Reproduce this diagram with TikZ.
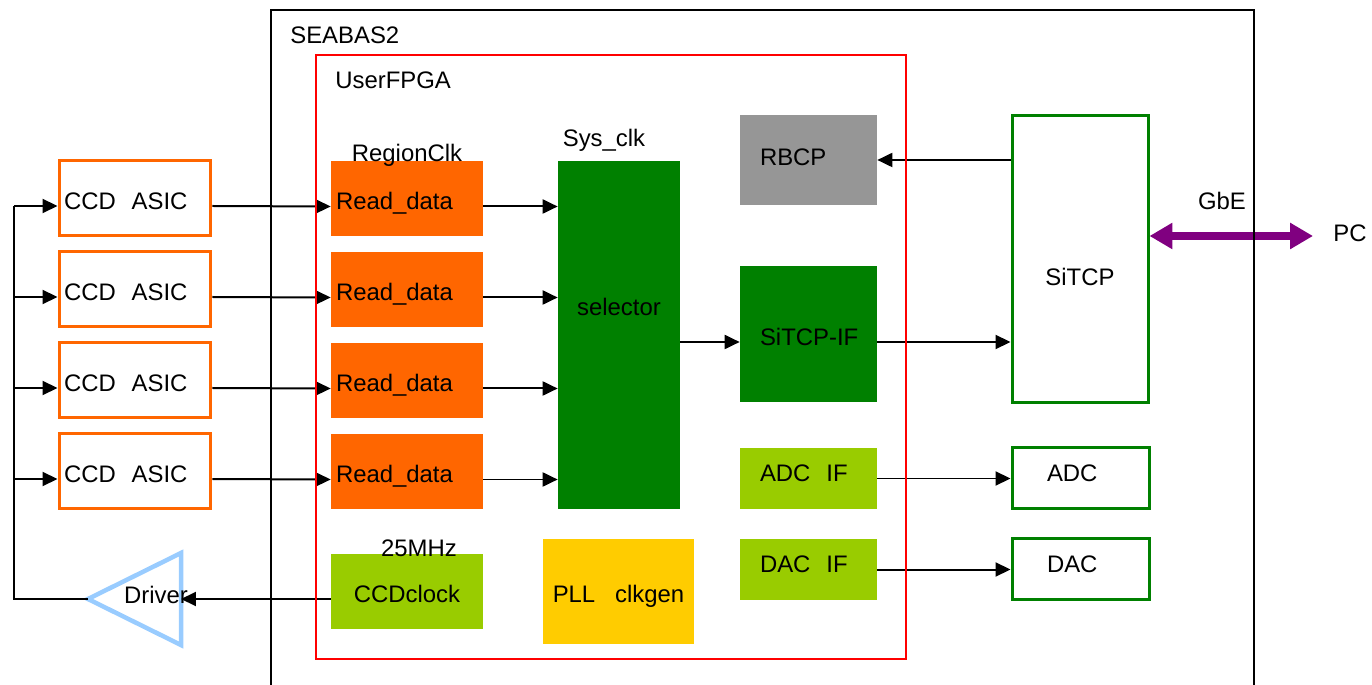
\documentclass[tikz,border=0pt]{standalone}
\usepackage{fontspec}
\setmainfont{Liberation Sans}
\usetikzlibrary{positioning,arrows.meta,calc}
\definecolor{asicorange}{RGB}{255,102,0}
\definecolor{selgreen}{RGB}{0,128,0}
\definecolor{ifgreen}{RGB}{153,204,0}
\definecolor{pllyellow}{RGB}{255,204,0}
\definecolor{rbcpgray}{RGB}{150,150,150}
\definecolor{drvblue}{RGB}{153,204,255}
\definecolor{gbepurple}{RGB}{128,0,128}
\tikzset{
  >={Triangle[length=0.3cm,width=0.28cm]},
  txt/.style={font=\fontsize{13.6}{16}\selectfont, inner sep=0pt},
  asic/.style={draw=asicorange, line width=0.06cm, fill=white, txt, text width=2.84cm,
    align=left, inner xsep=0.1cm, minimum height=1.52cm, text height=0.46cm, text depth=0cm},
  rdata/.style={fill=asicorange, txt, text width=2.84cm, align=left, inner xsep=0.1cm,
    minimum height=1.5cm, text height=0.46cm, text depth=0cm},
  ifbox/.style={fill=#1, txt, text width=1.94cm, align=left, inner xsep=0.4cm, text depth=0cm},
  ext/.style={draw=selgreen, line width=0.06cm, fill=white, txt, text width=1.34cm,
    align=left, inner xsep=0.7cm, minimum height=1.24cm, text height=0.15cm, text depth=0cm},
  sig/.style={->, line width=0.04cm},
  wire/.style={line width=0.04cm},
  gbe/.style={{Triangle[length=0.46cm,width=0.5cm]}-{Triangle[length=0.46cm,width=0.5cm]},
    line width=0.15cm, draw=gbepurple},
}
\begin{document}
\begin{tikzpicture}[x=0.02cm, y=-0.02cm]
    \useasboundingbox (0,0) rectangle (1372,685);
    % CCD side
    \foreach \i/\y in {1/198,2/289,3/380,4/471} {
      \node[asic] (asic\i) at (135,\y) {CCD~~ASIC};
      \node[rdata] (rd\i) at (407,\y+0.5) {Read\_data};
      \coordinate (in\i) at ($(asic\i.west)+(0,8)$);
    }
    \node[fill=selgreen, minimum width=2.44cm, minimum height=6.96cm,
      label={[txt,yshift=0.56cm]center:selector}] (sel) at (619,335) {};
    \node[fill=ifgreen, txt, minimum width=3.04cm, minimum height=1.5cm,
      text height=0.45cm, text depth=0cm] (ccdclk) at (407,591.5) {CCDclock};
    \node[fill=pllyellow, txt, minimum width=3.02cm, minimum height=2.1cm,
      text height=0.45cm, text depth=0cm] (pll) at (618.5,591.5) {PLL~~~clkgen};
    % Interfaces
    \node[ifbox=rbcpgray, minimum height=1.8cm, text height=0.23cm] (rbcp) at (808.5,160) {RBCP};
    \node[ifbox=selgreen, minimum height=2.72cm, text height=0.47cm] (sitcpif) at (808.5,334) {\mbox{SiTCP-IF}};
    \node[ifbox=ifgreen, minimum height=1.22cm, text height=0.13cm] (adcif) at (808.5,478.5) {ADC~~IF};
    \node[ifbox=ifgreen, minimum height=1.22cm, text height=0.13cm] (dacif) at (808.5,569.5) {DAC~~IF};
    % Board devices
    \node[draw=selgreen, line width=0.06cm, minimum width=2.72cm, minimum height=5.76cm,
      label={[txt,yshift=-0.36cm]center:SiTCP}] (sitcp) at (1080,259) {};
    \node[ext] (adc) at (1080.5,478) {ADC};
    \node[ext] (dac) at (1080.5,569) {DAC};
    % Driver
    \coordinate (drvtip) at (88,599);
    \coordinate (drvin) at (181,599);
    \draw[draw=drvblue, line width=0.09cm] (drvtip) -- (181,553) -- (181,645) -- cycle;
    \node[txt] (drv) at (156,595) {Driver};
    % Labels
    \node[txt, anchor=west] (seabas) at (290,35) {SEABAS2};
    \node[txt, anchor=west] (fpgalbl) at (335,80) {UserFPGA};
    \node[txt] (regclk) at (407,155) {RegionClk};
    \node[txt] (sysclk) at (604,140) {Sys\_clk};
    \node[txt] (clk25) at (419,548) {25MHz};
    \node[txt] (gbelbl) at (1222,201) {GbE};
    \node[txt, anchor=west] (pc) at (1333,233) {PC};
    % Arrows
    \coordinate (bus) at (14,0);
    \draw[wire] (drvtip) -| (bus |- in1);
    \foreach \i in {1,...,4} {
      \draw[sig] (bus |- in\i) -- (in\i);
      \draw[sig] ($(asic\i.east)+(0,8)$) -- ($(rd\i.west)+(0,8)$);
      \draw[sig] ($(rd\i.east)+(0,8)$) -- ($(rd\i.east -| sel.west)+(0,8)$);
    }
    \coordinate (sifin) at ($(sitcpif.west)+(0,8)$);
    \draw[sig] (sel.east |- sifin) -- (sifin);
    \draw[sig] ($(sitcpif.east)+(0,8)$) -- (sitcp.west |- sifin);
    \draw[sig] (sitcp.west |- rbcp.east) -- (rbcp.east);
    \draw[sig] (adcif.east) -- (adc.west |- adcif.east);
    \draw[sig] (dacif.east) -- (dac.west |- dacif.east);
    \draw[sig] (ccdclk.west |- drvin) -- (drvin);
    \coordinate (gbeend) at (1313,236);
    \draw[gbe] (sitcp.east |- gbeend) -- (gbeend);
    % Frames
    \draw[line width=0.04cm] (271,700) |- (1254,10) -- (1254,700);
    \draw[draw=red, line width=0.04cm] (316,55) rectangle (906,659);
\end{tikzpicture}
\end{document}
